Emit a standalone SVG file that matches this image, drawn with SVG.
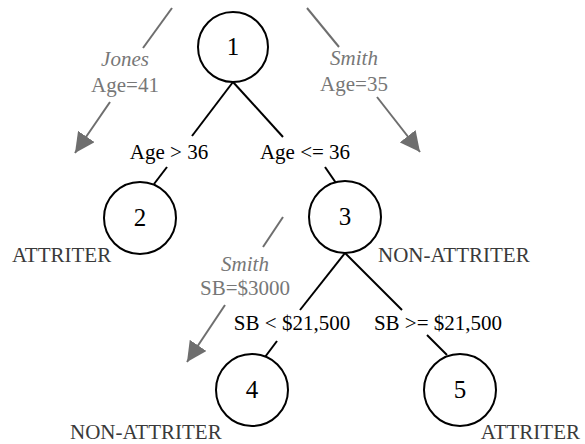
<svg xmlns="http://www.w3.org/2000/svg" width="585" height="444" viewBox="0 0 585 444">
<defs>
<style>
.node circle{fill:#fff;stroke:#000;stroke-width:2}
.num{font-family:"Liberation Serif",serif;font-size:25px;text-anchor:middle;fill:#000}
.edge{stroke:#000;stroke-width:2;fill:none}
.cond{font-family:"Liberation Serif",serif;font-size:21px;text-anchor:middle;fill:#000}
.leaf{font-family:"Liberation Serif",serif;font-size:21px;fill:#3a3a3a}
.ann{stroke:#6e6e6e;stroke-width:2;fill:none}
.annt{font-family:"Liberation Serif",serif;font-size:21px;text-anchor:middle;fill:#777}
.it{font-style:italic}
</style>
<marker id="ahb" viewBox="0 0 10 10" refX="10" refY="5" markerWidth="20" markerHeight="20" markerUnits="userSpaceOnUse" orient="auto">
<path d="M0,0 L10,5 L0,10 z" fill="#6e6e6e"/>
</marker>
</defs>
<g id="connectors">
<line class="edge" x1="233" y1="82" x2="192" y2="136"/>
<line class="edge" x1="233" y1="82" x2="283" y2="137"/>
<line class="edge" x1="167" y1="167" x2="154" y2="184"/>
<line class="edge" x1="325" y1="167" x2="336" y2="183"/>
<line class="edge" x1="345" y1="253" x2="300" y2="310"/>
<line class="edge" x1="345" y1="253" x2="402" y2="310"/>
<line class="edge" x1="277" y1="341" x2="265" y2="357"/>
<line class="edge" x1="427" y1="335" x2="447" y2="355"/>
<text class="cond" x="169" y="159">Age &gt; 36</text>
<text class="cond" x="305" y="159">Age &lt;= 36</text>
<text class="cond" x="292" y="330">SB &lt; $21,500</text>
<text class="cond" x="438" y="330">SB &gt;= $21,500</text>
</g>
<g id="node1" class="node"><circle cx="233" cy="47" r="35"/><text class="num" x="233" y="55">1</text></g>
<g id="node2" class="node"><circle cx="140" cy="218" r="36"/><text class="num" x="140" y="226">2</text><text class="leaf" x="12" y="262">ATTRITER</text></g>
<g id="node3" class="node"><circle cx="345" cy="217" r="36"/><text class="num" x="345" y="225">3</text><text class="leaf" x="378" y="262">NON-ATTRITER</text></g>
<g id="node4" class="node"><circle cx="252" cy="390" r="36"/><text class="num" x="252" y="398">4</text><text class="leaf" x="70" y="439">NON-ATTRITER</text></g>
<g id="node5" class="node"><circle cx="460" cy="390" r="36"/><text class="num" x="460" y="398">5</text><text class="leaf" x="580" y="439" text-anchor="end">ATTRITER</text></g>
<g id="annotations">
<line class="ann" x1="172" y1="8" x2="143" y2="48"/>
<text class="annt it" x="125" y="66">Jones</text>
<text class="annt" x="125" y="92">Age=41</text>
<line class="ann" x1="110" y1="102" x2="75" y2="153" marker-end="url(#ahb)"/>
<line class="ann" x1="307" y1="8" x2="339" y2="47"/>
<text class="annt it" x="354" y="65">Smith</text>
<text class="annt" x="354" y="91">Age=35</text>
<line class="ann" x1="377" y1="97" x2="420" y2="152" marker-end="url(#ahb)"/>
<line class="ann" x1="283" y1="217" x2="263" y2="247"/>
<text class="annt it" x="245" y="271">Smith</text>
<text class="annt" x="245" y="295">SB=$3000</text>
<line class="ann" x1="225" y1="305" x2="187" y2="362" marker-end="url(#ahb)"/>
</g>
</svg>
